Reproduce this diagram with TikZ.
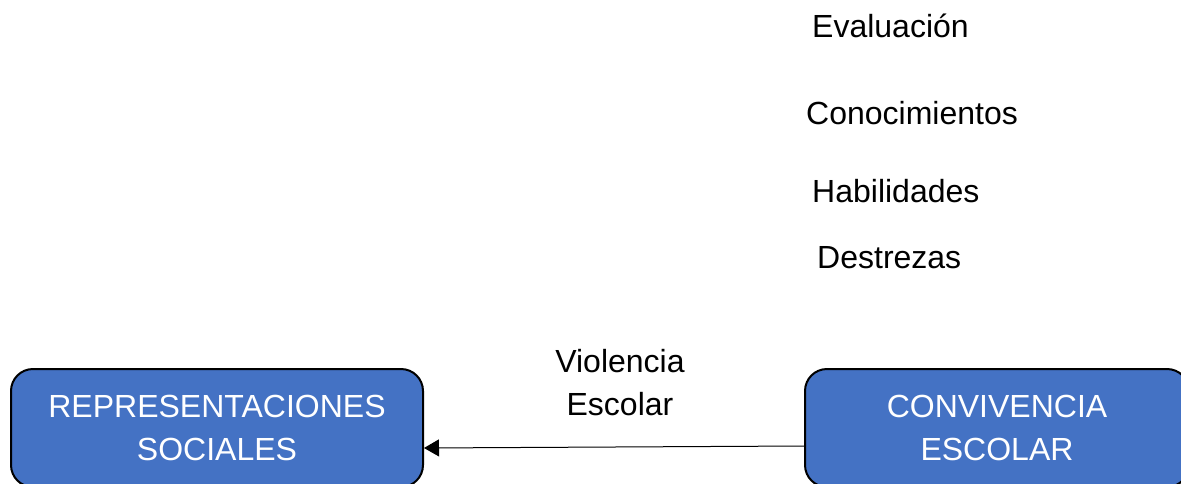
\documentclass[tikz,border=0pt]{standalone}
\usepackage{fontspec}
\setmainfont{Liberation Sans}
\usepackage{tikz}
\usetikzlibrary{arrows.meta}
\usetikzlibrary{positioning}
\definecolor{boxblue}{RGB}{68,114,196}
\tikzstyle{concept} = [rectangle, rounded corners=22pt, minimum height=118pt, text centered, align=center, draw=black, line width=2pt, fill=boxblue, text=white, font=\fontsize{32}{43}\selectfont]
\tikzstyle{word} = [anchor=base west, inner sep=0pt, font=\fontsize{32}{43}\selectfont]

\begin{document}
\begin{tikzpicture}[x=1pt, y=-1pt, node distance=43pt]
\clip (0,0) rectangle (1181,483);

\node (eval) [word] at (812,37) {Evaluación};
\node (conoc) [word] at (806,124) {Conocimientos};
\node (habil) [word] at (812,202) {Habilidades};
\node (destr) [word] at (817,268) {Destrezas};

\node (rep) [concept, minimum width=412pt] at (217,428) {REPRESENTACIONES\\SOCIALES};
\node (conv) [concept, minimum width=384pt] at (997,428) {CONVIVENCIA\\ESCOLAR};

\node (viol) [inner sep=0pt, align=center, font=\fontsize{32}{43}\selectfont] at (620,383) {Violencia\\Escolar};

\draw [-{Triangle[length=15pt,width=17pt]}, line width=1pt] ([yshift=-18pt]conv.west) -- ([yshift=-20pt]rep.east);
\end{tikzpicture}
\end{document}
